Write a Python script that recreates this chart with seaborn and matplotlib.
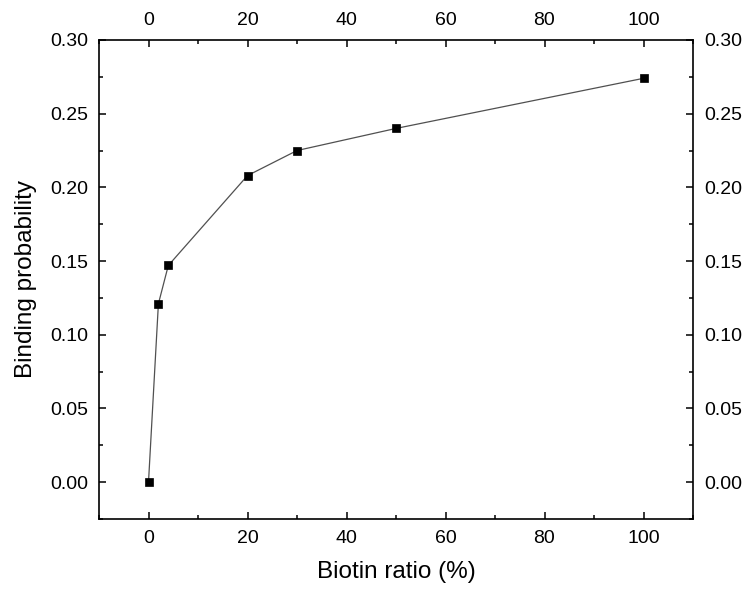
import matplotlib
matplotlib.use("Agg")
import matplotlib.pyplot as plt
from matplotlib.ticker import MultipleLocator
import seaborn as sns
import pandas as pd

biotin_ratio = [0, 2, 4, 20, 30, 50, 100]
binding_probability = [0.000, 0.121, 0.147, 0.208, 0.225, 0.240, 0.274]
x_label = "Biotin ratio (%)"
y_label = "Binding probability"

sns.set_theme(style="ticks")
plt.rcParams["font.family"] = ["Liberation Sans", "DejaVu Sans"]
plt.rcParams["text.color"] = "black"
plt.rcParams["axes.labelcolor"] = "black"
plt.rcParams["xtick.labelcolor"] = "black"
plt.rcParams["ytick.labelcolor"] = "black"

df = pd.DataFrame({"x": biotin_ratio, "y": binding_probability})

fig = plt.figure(figsize=(7.48, 5.92), dpi=100)
ax = fig.add_axes([99 / 748, 1 - 519 / 592, (693 - 99) / 748, (519 - 40) / 592])

sns.lineplot(data=df, x="x", y="y", ax=ax, color="#505050", linewidth=0.9,
             marker="s", markersize=6.4, markerfacecolor="black",
             markeredgecolor="black", markeredgewidth=0.5)

ax.set_xlim(-10, 110)
ax.set_ylim(-0.025, 0.30)
ax.xaxis.set_major_locator(MultipleLocator(20))
ax.xaxis.set_minor_locator(MultipleLocator(10))
ax.yaxis.set_major_locator(MultipleLocator(0.05))
ax.yaxis.set_minor_locator(MultipleLocator(0.025))
ax.yaxis.set_major_formatter(matplotlib.ticker.FormatStrFormatter("%.2f"))

ax.tick_params(which="both", direction="in", top=True, right=True,
               labeltop=True, labelright=True, width=1.1, color="black",
               labelcolor="black")
ax.tick_params(which="major", length=5, labelsize=14, pad=8)
ax.tick_params(which="minor", length=3)

for s in ax.spines.values():
    s.set_linewidth(1.2)
    s.set_color("black")

ax.set_xlabel(x_label, fontsize=17.5, labelpad=10, color="black")
ax.set_ylabel(y_label, fontsize=17.5, labelpad=9, color="black")

fig.savefig("out.png", dpi=100)
